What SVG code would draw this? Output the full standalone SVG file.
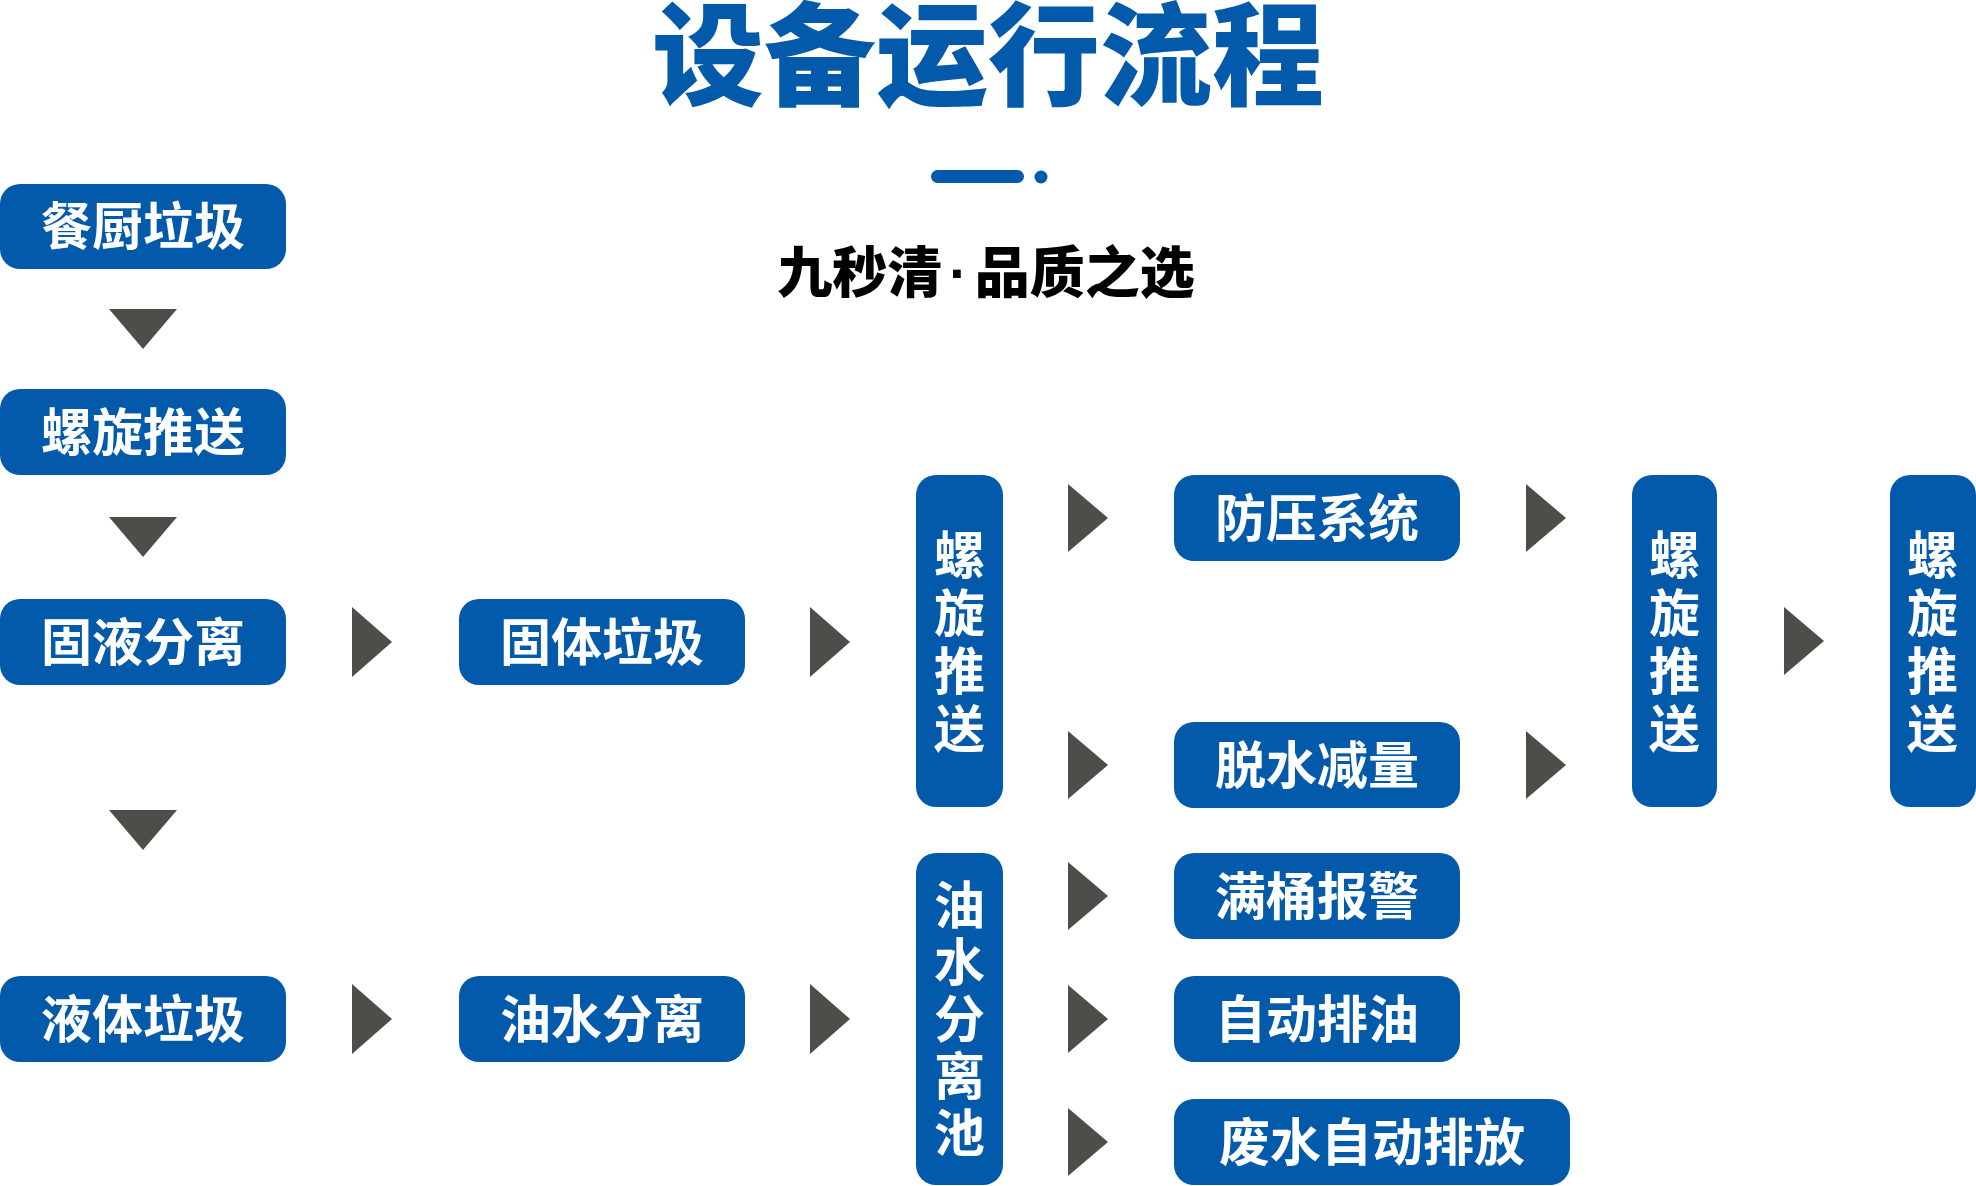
<svg xmlns="http://www.w3.org/2000/svg" width="1976" height="1186" viewBox="0 0 1976 1186">
<style>
.box{fill:#035aab}
.lbl{fill:#ffffff;font-family:"Noto Sans CJK SC","Noto Sans CJK JP",sans-serif;font-weight:700;font-size:51px;text-anchor:middle}
.vlbl{fill:#ffffff;font-family:"Noto Sans CJK SC","Noto Sans CJK JP",sans-serif;font-weight:700;font-size:51px;text-anchor:middle;writing-mode:vertical-rl;letter-spacing:7px}
.arr{fill:#4e4d49}
.title{fill:#035aab;font-family:"Noto Sans CJK SC",sans-serif;font-weight:900;font-size:112px;text-anchor:middle}
.sub{fill:#000000;font-family:"Noto Sans CJK SC",sans-serif;font-weight:900;font-size:55px;text-anchor:middle}
</style>
<rect width="1976" height="1186" fill="#ffffff"/>
<g id="header">
<text class="title" x="988" y="97">设备运行流程</text>
<rect x="931" y="170" width="93" height="13" rx="6.5" fill="#035aab"/>
<circle cx="1041" cy="177" r="6.5" fill="#035aab"/>
<text class="sub" x="986" y="292">九秒清<tspan dx="7" font-family="'Liberation Sans',sans-serif" font-weight="700">·</tspan><tspan dx="7">品质之选</tspan></text>
</g>
<g id="n-canchu"><rect class="box" x="0" y="184" width="286" height="85" rx="20"/><text class="lbl" x="143" y="245">餐厨垃圾</text></g>
<g id="n-luoxuan1"><rect class="box" x="0" y="389" width="286" height="86" rx="20"/><text class="lbl" x="143" y="451">螺旋推送</text></g>
<g id="n-guye"><rect class="box" x="0" y="599" width="286" height="86" rx="20"/><text class="lbl" x="143" y="661">固液分离</text></g>
<g id="n-yeti"><rect class="box" x="0" y="976" width="286" height="86" rx="20"/><text class="lbl" x="143" y="1038">液体垃圾</text></g>
<g id="n-guti"><rect class="box" x="459" y="599" width="286" height="86" rx="20"/><text class="lbl" x="602" y="661">固体垃圾</text></g>
<g id="n-youshui"><rect class="box" x="459" y="976" width="286" height="86" rx="20"/><text class="lbl" x="602" y="1038">油水分离</text></g>
<g id="n-luoxuan2"><rect class="box" x="916" y="475" width="87" height="332" rx="20"/>
<text class="vlbl" x="959.5" y="645">螺旋推送</text></g>
<g id="n-fangya"><rect class="box" x="1174" y="475" width="286" height="86" rx="20"/><text class="lbl" x="1317" y="537">防压系统</text></g>
<g id="n-tuoshui"><rect class="box" x="1174" y="722" width="286" height="86" rx="20"/><text class="lbl" x="1317" y="784">脱水减量</text></g>
<g id="n-luoxuan3"><rect class="box" x="1632" y="475" width="85" height="332" rx="20"/>
<text class="vlbl" x="1674.5" y="645">螺旋推送</text></g>
<g id="n-luoxuan4"><rect class="box" x="1890" y="475" width="86" height="332" rx="20"/>
<text class="vlbl" x="1932.5" y="645">螺旋推送</text></g>
<g id="n-youshuichi"><rect class="box" x="916" y="853" width="87" height="332" rx="20"/>
<text class="vlbl" x="959.5" y="1022" style="letter-spacing:6px">油水分离池</text></g>
<g id="n-mantong"><rect class="box" x="1174" y="853" width="286" height="86" rx="20"/><text class="lbl" x="1317" y="915">满桶报警</text></g>
<g id="n-zidong"><rect class="box" x="1174" y="976" width="286" height="86" rx="20"/><text class="lbl" x="1317" y="1038">自动排油</text></g>
<g id="n-feishui"><rect class="box" x="1174" y="1099" width="396" height="86" rx="20"/><text class="lbl" x="1372" y="1161">废水自动排放</text></g>
<g id="connectors">
<polygon class="arr" points="109,309 177,309 143,349"/>
<polygon class="arr" points="109,517 177,517 143,557"/>
<polygon class="arr" points="109,810 177,810 143,850"/>
<polygon class="arr" points="352,607 352,677 392,642"/>
<polygon class="arr" points="810,607 810,677 850,642"/>
<polygon class="arr" points="352,984 352,1054 392,1019"/>
<polygon class="arr" points="810,984 810,1054 850,1019"/>
<polygon class="arr" points="1068,484 1068,552 1108,518"/>
<polygon class="arr" points="1068,731 1068,799 1108,765"/>
<polygon class="arr" points="1526,484 1526,552 1566,518"/>
<polygon class="arr" points="1526,731 1526,799 1566,765"/>
<polygon class="arr" points="1784,607 1784,675 1824,641"/>
<polygon class="arr" points="1068,862 1068,930 1108,896"/>
<polygon class="arr" points="1068,985 1068,1053 1108,1019"/>
<polygon class="arr" points="1068,1108 1068,1176 1108,1142"/>
</g>
</svg>
